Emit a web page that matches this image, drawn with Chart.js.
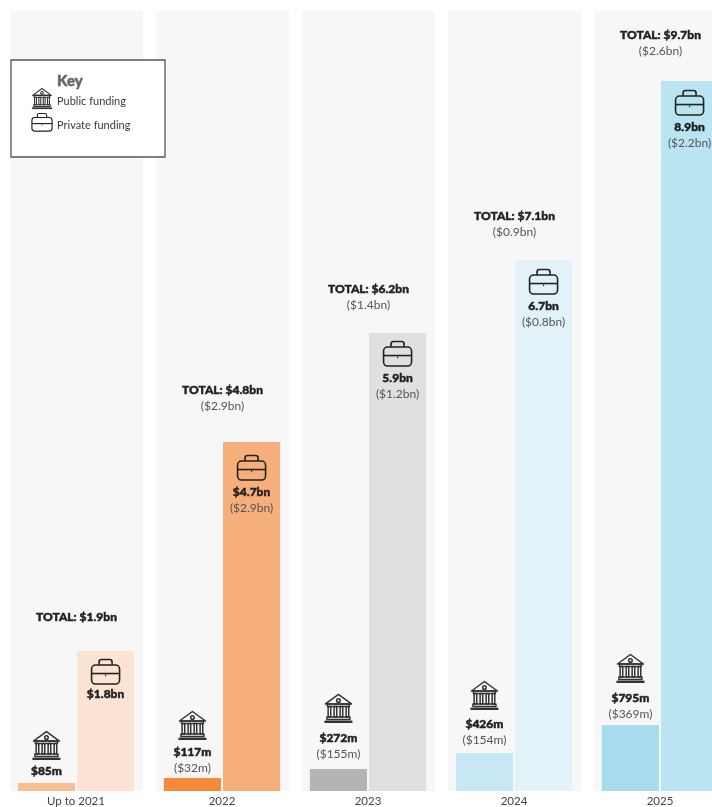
<!DOCTYPE html>
<html><head><meta charset="utf-8">
<style>html,body{margin:0;padding:0;background:#fff;overflow:hidden}
#wrap{width:712px;height:807px;overflow:hidden;position:relative}canvas{display:block}</style>
<script src="https://cdn.jsdelivr.net/npm/chart.js@4/dist/chart.umd.js"></script>
</head><body><div id="wrap"><canvas id="c" width="733" height="807"></canvas></div>
<script>
// Data (US$ millions, bar lengths)
const categories = ["Up to 2021", "2022", "2023", "2024", "2025"];
const publicFunding = [100, 163, 276, 476, 827];
const privateFunding = [1754, 4373, 5739, 6654, 8897];
const publicLabels = ["$85m", "$117m", "$272m", "$426m", "$795m"];
const publicNotes = ["", "($32m)", "($155m)", "($154m)", "($369m)"];
const privateLabels = ["$1.8bn", "$4.7bn", "5.9bn", "6.7bn", "8.9bn"];
const privateNotes = ["", "($2.9bn)", "($1.2bn)", "($0.8bn)", "($2.2bn)"];
const totalLabels = ["TOTAL: $1.9bn", "TOTAL: $4.8bn", "TOTAL: $6.2bn", "TOTAL: $7.1bn", "TOTAL: $9.7bn"];
const totalNotes = ["", "($2.9bn)", "($1.4bn)", "($0.9bn)", "($2.6bn)"];
const yMax = 9775;

// Styles
const publicColors = ["#f9bd92", "#f58a3a", "#b4b4b4", "#c6e7f3", "#a6dcee"];
const privateColors = ["#fce4d5", "#f6ae7a", "#e0e0e0", "#e3f2f9", "#bae4f2"];
const panelColor = "#f7f7f7", ink = "#222", noteInk = "#555";
const boldFont = '900 12px Lato', noteFont = '12px Lato';
// Label gaps relative to the bar tops (px)
const totalGap = [34, 52, 44, 44, 46];
const privIconGap = [21, 26, 21, 22, 22];
const privLabelGap = [43, 50, 45, 46, 46];
const pubLabelGap = [12, 26, 31, 29, 27];
const pubIconGap = [37, 52, 60, 57, 56];

function bankIcon(ctx, cx, cy, k) {
  ctx.save(); ctx.translate(cx, cy); ctx.scale(k || 1, k || 1);
  ctx.strokeStyle = "#333"; ctx.lineWidth = 1.5; ctx.lineJoin = "round";
  ctx.beginPath(); ctx.moveTo(-13, -5); ctx.lineTo(0, -14.5); ctx.lineTo(13, -5); ctx.closePath(); ctx.stroke();
  ctx.beginPath(); ctx.arc(0, -8.5, 1.8, 0, Math.PI * 2); ctx.stroke();
  ctx.strokeRect(-11, -5, 22, 2.5);
  for (const x of [-9, -3, 3, 9]) { ctx.strokeRect(x - 1.3, -2.5, 2.6, 10.5); }
  ctx.strokeRect(-11.5, 8, 23, 2.5);
  ctx.lineWidth = 2.4; ctx.beginPath(); ctx.moveTo(-14, 12.8); ctx.lineTo(14, 12.8); ctx.stroke();
  ctx.restore();
}
function caseIcon(ctx, cx, cy, k) {
  ctx.save(); ctx.translate(cx, cy); ctx.scale(k || 1, k || 1);
  ctx.strokeStyle = "#222"; ctx.lineWidth = 1.6; ctx.lineJoin = "round";
  ctx.beginPath(); ctx.roundRect(-14, -7, 28, 19, 4); ctx.stroke();
  ctx.beginPath(); ctx.moveTo(-6.5, -7); ctx.lineTo(-6.5, -10); ctx.quadraticCurveTo(-6.5, -12.5, -4, -12.5);
  ctx.lineTo(4, -12.5); ctx.quadraticCurveTo(6.5, -12.5, 6.5, -10); ctx.lineTo(6.5, -7); ctx.stroke();
  ctx.beginPath(); ctx.moveTo(-14, 1.5); ctx.lineTo(14, 1.5); ctx.stroke();
  ctx.fillStyle = "#222"; ctx.fillRect(-0.6, 2.5, 1.2, 1.6);
  ctx.restore();
}
function text(ctx, s, x, y, font, color, align, heavy) {
  if (!s) return;
  ctx.font = font; ctx.fillStyle = color; ctx.textAlign = align || "center"; ctx.textBaseline = "middle";
  ctx.fillText(s, x, y);
  if (heavy) { ctx.strokeStyle = color; ctx.lineWidth = 0.45; ctx.lineJoin = "round"; ctx.strokeText(s, x, y); }
}

const panels = {
  id: "panels",
  beforeDatasetsDraw(chart) {
    const { ctx, scales: { x }, chartArea: a } = chart;
    ctx.save(); ctx.fillStyle = panelColor;
    categories.forEach((_, i) => {
      const c = x.getPixelForTick(i);
      ctx.fillRect(c - 66, a.top, 133, a.bottom - a.top);
    });
    ctx.restore();
  }
};
const annotations = {
  id: "annotations",
  afterDatasetsDraw(chart) {
    const ctx = chart.ctx, x = chart.scales.x;
    const pub = chart.getDatasetMeta(0).data, prv = chart.getDatasetMeta(1).data;
    categories.forEach((_, i) => {
      const cx = x.getPixelForTick(i) + 0.5, t = prv[i].y, p = pub[i].y;
      text(ctx, totalLabels[i], cx, t - totalGap[i], boldFont, ink, "center", true);
      text(ctx, totalNotes[i], cx, t - totalGap[i] + 16, noteFont, noteInk);
      caseIcon(ctx, prv[i].x, t + privIconGap[i]);
      text(ctx, privateLabels[i], prv[i].x, t + privLabelGap[i], boldFont, ink, "center", true);
      text(ctx, privateNotes[i], prv[i].x, t + privLabelGap[i] + 16, noteFont, noteInk);
      bankIcon(ctx, pub[i].x, p - pubIconGap[i]);
      text(ctx, publicLabels[i], pub[i].x, p - pubLabelGap[i], boldFont, ink, "center", true);
      text(ctx, publicNotes[i], pub[i].x, p - pubLabelGap[i] + 16, noteFont, noteInk);
    });
    // Key
    ctx.save();
    ctx.fillStyle = "#fff"; ctx.strokeStyle = "#555"; ctx.lineWidth = 1.3;
    ctx.fillRect(11, 60, 154, 97); ctx.strokeRect(11, 60, 154, 97);
    text(ctx, "Key", 57, 81, '900 15px Lato', "#666", "left", true);
    bankIcon(ctx, 42, 99, 0.72);
    text(ctx, "Public funding", 57, 101, '11px Lato', "#3a3a3a", "left");
    caseIcon(ctx, 42, 122.5, 0.72);
    text(ctx, "Private funding", 57, 125, '11px Lato', "#3a3a3a", "left");
    ctx.restore();
  }
};

new Chart(document.getElementById("c"), {
  type: "bar",
  data: {
    labels: categories,
    datasets: [
      { label: "Public funding", data: publicFunding, backgroundColor: publicColors, borderWidth: 0 },
      { label: "Private funding", data: privateFunding, backgroundColor: privateColors, borderWidth: 0 }
    ]
  },
  options: {
    responsive: false, animation: false, devicePixelRatio: 1,
    layout: { padding: { left: 3, right: 0, top: 11, bottom: 0 } },
    datasets: { bar: { categoryPercentage: 0.81, barPercentage: 0.966 } },
    plugins: { legend: { display: false }, tooltip: { enabled: false } },
    scales: {
      x: {
        grid: { display: false, drawTicks: false }, border: { display: false },
        ticks: { color: "#444", font: { family: "Lato", size: 11.5 }, padding: 3, maxRotation: 0, autoSkip: false },
        afterFit(s) { s.height = 16; }
      },
      y: { display: false, min: 0, max: yMax }
    }
  },
  plugins: [panels, annotations]
});
</script></body></html>
